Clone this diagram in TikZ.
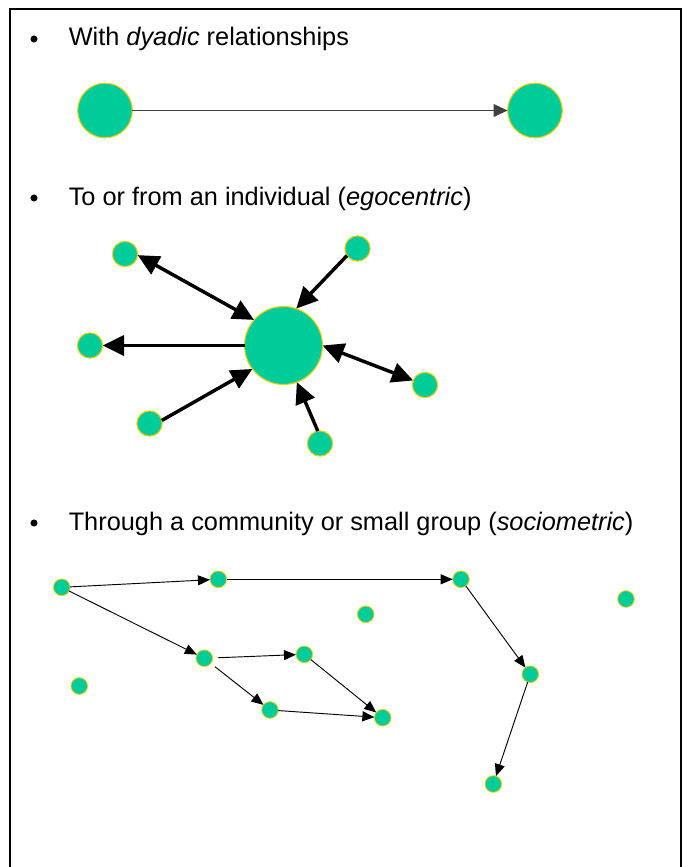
\documentclass[tikz,border=0pt]{standalone}
\usepackage{fontspec}
\setmainfont{Liberation Sans}
\usetikzlibrary{arrows.meta}
\definecolor{nodegreen}{RGB}{0,204,153}
\definecolor{nodegold}{RGB}{255,204,0}

\begin{document}
\begin{tikzpicture}[
  x=0.75pt, y=-0.75pt,
  every node/.style={font=\fontsize{19}{23}\selectfont},
  bullet/.style={circle, fill=black, inner sep=0pt, minimum size=5.3pt},
  item/.style={anchor=base west, inner sep=0pt},
  actor/.style={circle, draw=nodegold, fill=nodegreen, line width=0.8pt,
                inner sep=0pt, outer sep=0pt, minimum size=41pt},
  ego/.style={actor, minimum size=58.5pt},
  alter/.style={actor, minimum size=19pt},
  member/.style={actor, line width=0.6pt, minimum size=12.5pt},
  tie/.style={-{Triangle[length=10.5pt, width=9.5pt]}, line width=1pt, black!75},
  egotie/.style={-{Triangle[length=16pt, width=15pt]}, line width=2.6pt},
  mutual/.style={{Triangle[length=16pt, width=15pt]}-{Triangle[length=16pt, width=15pt]},
                 line width=2.6pt},
  grouptie/.style={-{Triangle[length=9pt, width=7.5pt]}, line width=0.7pt},
]
\useasboundingbox (0,0) rectangle (683,867);

% ---------------------------------------------------------------- frame --
\draw[line width=1.5pt] (9.5,870) -- (9.5,9.5) -- (680.5,9.5) -- (680.5,870);

% ---------------------------------------------------------------- items --
\node[bullet] (b1) at (34,39) {};
\node[item] (t1) at (68.5,46) {With \textit{dyadic} relationships};
\node[bullet] (b2) at (34,198) {};
\node[item] (t2) at (68.5,205) {To or from an individual (\textit{egocentric})};
\node[bullet] (b3) at (34,523) {};
\node[item] (t3) at (68.5,530) {Through a community or small group (\textit{sociometric})};

% --------------------------------------------------------------- dyadic --
\node[actor] (pairA) at (105,110.5) {};
\node[actor] (pairB) at (535,110.5) {};
\draw[tie] (pairA) -- (pairB);

% ----------------------------------------------------------- egocentric --
\node[ego]   (ego)  at (283.5,345.5) {};
\node[alter] (alt1) at (125,254) {};
\node[alter] (alt2) at (357.5,248.5) {};
\node[alter] (alt3) at (90,345.5) {};
\node[alter] (alt4) at (425,385) {};
\node[alter] (alt5) at (149.5,423.5) {};
\node[alter] (alt6) at (320,443.5) {};

\draw[mutual] (alt1.355) -- (ego.139);
\draw[egotie] (alt2.214) -- (ego.71);
\draw[egotie] (ego.west) -- (alt3);
\draw[mutual] (ego.east) -- (alt4);
\draw[egotie] (alt5.14) -- (ego.217);
\draw[egotie] (alt6.100) -- (ego.290);

% ---------------------------------------------------------- sociometric --
\node[member] (m1)  at (61.7,587.3) {};
\node[member] (m2)  at (218.3,579.3) {};
\node[member] (m3)  at (461,579.3) {};
\node[member] (m4)  at (365.7,614.3) {};
\node[member] (m5)  at (204.3,658.3) {};
\node[member] (m6)  at (79.3,686) {};
\node[member] (m7)  at (304.3,654.3) {};
\node[member] (m8)  at (270,710) {};
\node[member] (m9)  at (382.7,717.7) {};
\node[member] (m10) at (626,599) {};
\node[member] (m11) at (530.3,674.3) {};
\node[member] (m12) at (493.3,784) {};

\draw[grouptie] (m1) -- (m2);
\draw[grouptie] (m2) -- (m3);
\draw[grouptie] (m1) -- (m5);
\draw[grouptie, shorten <=4pt] (m5) -- (m7);
\draw[grouptie, shorten <=4pt] (m5) -- (m8);
\draw[grouptie] (m7) -- (m9);
\draw[grouptie] (m8) -- (m9);
\draw[grouptie] (m3) -- (m11);
\draw[grouptie] (m11) -- (m12);

\end{tikzpicture}
\end{document}
